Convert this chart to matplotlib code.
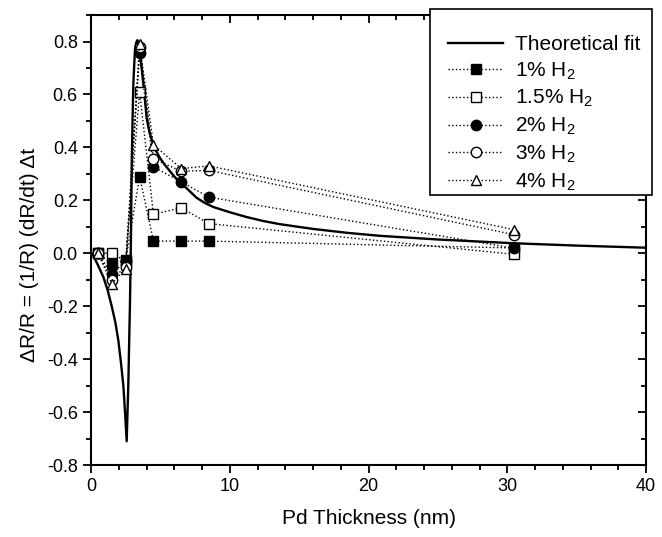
import matplotlib
matplotlib.use("Agg")
import matplotlib.pyplot as plt
from matplotlib.patches import Rectangle

plt.rcParams["font.family"] = ["Liberation Sans", "DejaVu Sans"]
plt.rcParams["mathtext.default"] = "regular"

# measured thickness (nm)
x_meas = [0.5, 1.5, 2.5, 3.5, 4.5, 6.5, 8.5, 30.5]
# dR/R for each H2 concentration
h1 = [0.0, -0.04, -0.027, 0.29, 0.046, 0.046, 0.046, 0.02]
h15 = [0.0, 0.0, -0.03, 0.61, 0.147, 0.172, 0.112, -0.004]
h2 = [0.0, -0.077, -0.03, 0.755, 0.326, 0.27, 0.212, 0.019]
h3 = [0.0, -0.1, -0.05, 0.78, 0.357, 0.31, 0.313, 0.07]
h4 = [0.0, -0.115, -0.058, 0.79, 0.41, 0.32, 0.33, 0.089]

# theoretical fit
fit_x = [0.0, 0.17, 0.5, 0.89, 1.2, 1.49, 1.75, 1.97, 2.15, 2.33, 2.45, 2.57,
         2.63, 2.69, 2.75, 2.81, 2.88, 2.93, 3.0, 3.05, 3.12, 3.17, 3.25, 3.34,
         3.43, 3.53, 3.65, 3.77, 3.9, 4.01, 4.2, 4.37, 4.65, 4.97, 5.3, 5.69,
         6.0, 6.4, 7.0, 7.6, 8.2, 8.8, 10.0, 11.2, 12.4, 13.6, 16.0, 18.5,
         20.8, 25.0, 30.4, 35.0, 40.0]
fit_y = [0.0, -0.01, -0.045, -0.09, -0.14, -0.2, -0.26, -0.33, -0.41, -0.5,
         -0.6, -0.71, -0.6, -0.49, -0.33, -0.18, 0.07, 0.33, 0.52, 0.64, 0.72,
         0.77, 0.795, 0.805, 0.79, 0.75, 0.7, 0.64, 0.57, 0.51, 0.46, 0.43,
         0.39, 0.36, 0.335, 0.31, 0.29, 0.27, 0.24, 0.21, 0.19, 0.175, 0.155,
         0.137, 0.122, 0.11, 0.092, 0.077, 0.066, 0.052, 0.038, 0.029, 0.021]

yt = [-0.8, -0.6, -0.4, -0.2, 0.0, 0.2, 0.4, 0.6, 0.8]
yt_lab = ["-0.8", "-0.6", "-0.4", "-0.2", "0.0", "0.2", "0.4", "0.6", "0.8"]
xt = [0, 10, 20, 30, 40]

fig = plt.figure(figsize=(6.62, 5.37), dpi=100, facecolor="white")
ax = fig.add_axes([0.1375, 0.134, 0.8385, 0.838])

ax.plot(fit_x, fit_y, "k-", lw=1.7, label="Theoretical fit", zorder=3)
mk = dict(color="k", ls=":", lw=1, ms=7.5, mec="k", mew=1, zorder=4)
ax.plot(x_meas, h1, marker="s", mfc="k", label="1% H$_2$", **mk)
ax.plot(x_meas, h15, marker="s", mfc="white", label="1.5% H$_2$", **mk)
ax.plot(x_meas, h2, marker="o", mfc="k", label="2% H$_2$", **mk)
ax.plot(x_meas, h3, marker="o", mfc="white", label="3% H$_2$", **mk)
ax.plot(x_meas, h4, marker="^", mfc="white", label="4% H$_2$", **mk)

ax.set_xlim(0, 40)
ax.set_ylim(-0.8, 0.9)
ax.set_xticks(xt)
ax.set_xticks(range(0, 41, 2), minor=True)
ax.set_yticks(yt)
ax.set_yticks([v / 10 for v in range(-8, 10)], minor=True)
ax.set_yticklabels(yt_lab)

for s in ax.spines.values():
    s.set_linewidth(1.5)
ax.tick_params(which="both", direction="out", width=1.3, labelsize=13,
               top=False, right=False)
ax.tick_params(which="major", length=6)
ax.tick_params(which="minor", length=3.5)

# mirrored inward ticks on top and right
ax_t = ax.secondary_xaxis("top")
ax_t.set_xticks(xt)
ax_t.set_xticks(range(0, 41, 2), minor=True)
ax_t.tick_params(which="both", direction="in", labeltop=False, width=1.3)
ax_t.tick_params(which="major", length=6)
ax_t.tick_params(which="minor", length=3.5)
ax_t.spines["top"].set_visible(False)
ax_r = ax.secondary_yaxis("right")
ax_r.set_yticks(yt)
ax_r.set_yticks([v / 10 for v in range(-8, 10)], minor=True)
ax_r.tick_params(which="both", direction="in", labelright=False, width=1.3)
ax_r.tick_params(which="major", length=6)
ax_r.tick_params(which="minor", length=3.5)
ax_r.spines["right"].set_visible(False)

ax.set_xlabel("Pd Thickness (nm)", fontsize=15, labelpad=10)
ax.set_ylabel("ΔR/R = (1/R) (dR/dt) Δt", fontsize=15)
ax.yaxis.set_label_coords(-0.094, 0.467)

# legend box drawn separately so the padding can be uneven like the original
box = Rectangle((0.611, 0.6), 0.4, 0.413, transform=ax.transAxes,
                facecolor="white", edgecolor="k", lw=1.2, clip_on=False,
                zorder=9)
ax.add_patch(box)
leg = ax.legend(loc="upper left", bbox_to_anchor=(0.643, 0.956), fontsize=15,
                numpoints=1, handlelength=2.65, handletextpad=0.55,
                labelspacing=0.31, borderpad=0, borderaxespad=0,
                frameon=False)
leg.set_zorder(10)

fig.savefig("out.png", dpi=100)
